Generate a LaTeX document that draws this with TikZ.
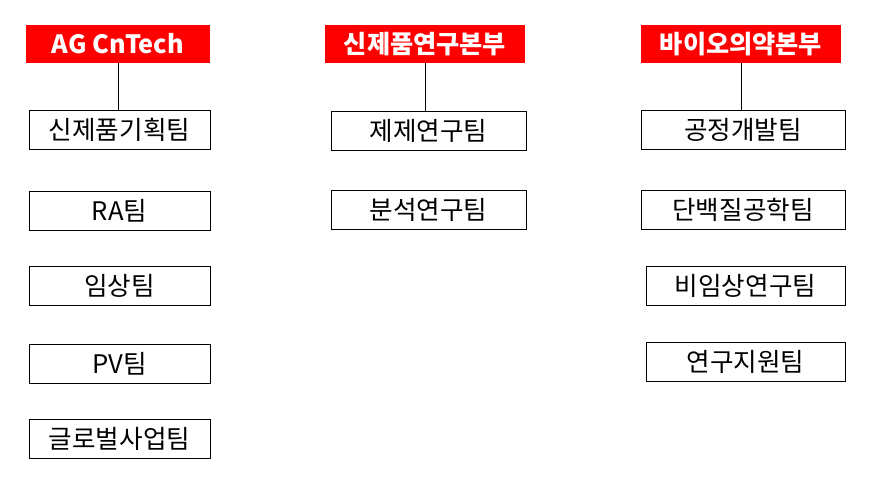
\documentclass[tikz,border=0pt]{standalone}
\usepackage{fontspec}
\setmainfont{Noto Sans CJK KR}
\usetikzlibrary{positioning}

\begin{document}
\begin{tikzpicture}[x=0.5pt, y=-0.5pt]
\tikzstyle{bonbu}=[fill={rgb,255:red,255;green,0;blue,0}, text=white, font=\fontsize{12.6}{13}\selectfont\bfseries, minimum height=19pt, inner sep=0pt]
\tikzstyle{team}=[draw, line width=0.5pt, font=\fontsize{12.8}{13}\selectfont, minimum height=19.5pt, inner sep=0pt]
\tikzstyle{link}=[line width=0.5pt]

\useasboundingbox (0,0) rectangle (875,488);

%%%%%%%%%%%%%%%%%%%%%%%%%%%%%%
%%%%% BONBU

\coordinate (b_1) at (118, 44);
\coordinate (b_2) at (425, 44);
\coordinate (b_3) at (741, 44);

\node[bonbu, minimum width=92pt] (b_1) at (b_1) {AG CnTech};
\node[bonbu, minimum width=100pt] (b_2) at (b_2) {신제품연구본부};
\node[bonbu, minimum width=100pt] (b_3) at (b_3) {바이오의약본부};

%%%%%%%%%%%%%%%%%%%%%%%%%%%%%%
%%%%% TEAMS 1
\node[team, minimum width=90.5pt] (t_11) at (119.5, 129.5) {신제품기획팀};
\node[team, minimum width=90.5pt] (t_12) at (119.5, 211) {RA팀};
\node[team, minimum width=90.5pt] (t_13) at (119.5, 285.5) {임상팀};
\node[team, minimum width=90.5pt] (t_14) at (119.5, 363.5) {PV팀};
\node[team, minimum width=90.5pt] (t_15) at (119.5, 439) {글로벌사업팀};

%%%%% TEAMS 2
\node[team, minimum width=97.5pt] (t_21) at (428.5, 130.5) {제제연구팀};
\node[team, minimum width=97.5pt] (t_22) at (428.5, 209.5) {분석연구팀};

%%%%% TEAMS 3
\node[team, minimum width=102pt] (t_31) at (743, 129.5) {공정개발팀};
\node[team, minimum width=102pt] (t_32) at (743, 209.5) {단백질공학팀};
\node[team, minimum width=99.5pt] (t_33) at (745.5, 285.5) {비임상연구팀};
\node[team, minimum width=99.5pt] (t_34) at (745.5, 361.5) {연구지원팀};

%%%%%%%%%%%%%%%%%%%%%%%%%%%%%%
%%%%% CONEXIONES
\draw[link] (b_1.south) -- (b_1.south |- t_11.north);
\draw[link] (b_2.south) -- (b_2.south |- t_21.north);
\draw[link] (b_3.south) -- (b_3.south |- t_31.north);

\end{tikzpicture}
\end{document}
